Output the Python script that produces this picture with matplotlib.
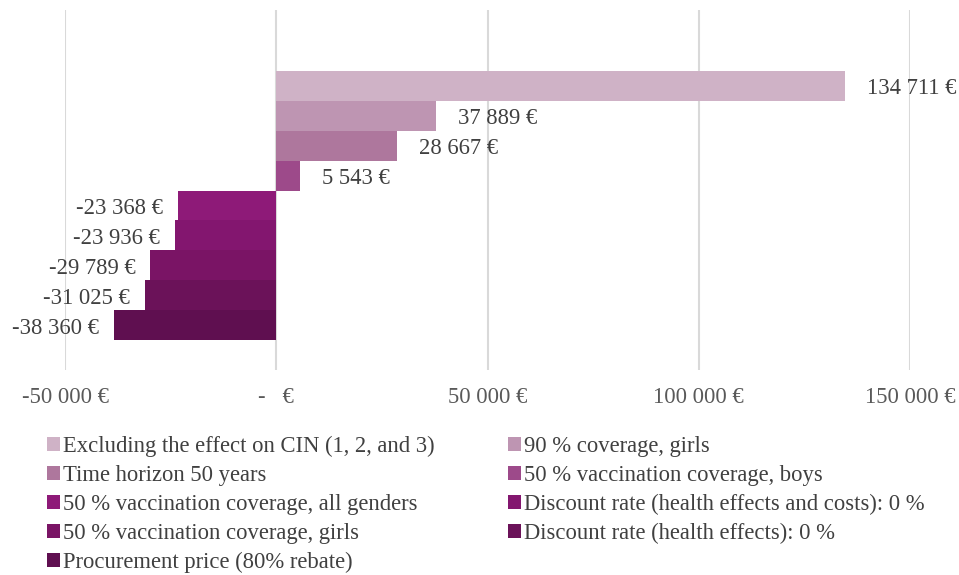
import matplotlib
matplotlib.use("Agg")
import matplotlib.pyplot as plt
from matplotlib.patches import Patch

plt.rcParams['font.family'] = ['Liberation Serif', 'DejaVu Serif']

labels = [
    "Excluding the effect on CIN (1, 2, and 3)",
    "90 % coverage, girls",
    "Time horizon 50 years",
    "50 % vaccination coverage, boys",
    "50 % vaccination coverage, all genders",
    "Discount rate (health effects and costs): 0 %",
    "50 % vaccination coverage, girls",
    "Discount rate (health effects): 0 %",
    "Procurement price (80% rebate)",
]
values = [134711, 37889, 28667, 5543, -23368, -23936, -29789, -31025, -38360]
colors = ["#CFB2C6", "#BE95B2", "#AE779D", "#9D4A8A", "#8E1A78",
          "#83166F", "#7A1465", "#6B1259", "#5F0F50"]
xticks = [-50000, 0, 50000, 100000, 150000]
xticklabels = ["-50 000 €", "-   €", "50 000 €", "100 000 €", "150 000 €"]

FS = 16.3

def fmt(v):
    s = f"{abs(v):,}".replace(",", " ")
    return ("-" if v < 0 else "") + s + " €"

fig = plt.figure(figsize=(9.59, 5.75), dpi=100)
ax = fig.add_axes([65/959, 1-370/575, 845/959, 360/575])

ypos = list(range(len(values)))
ax.barh(ypos, values, height=1.0, color=colors, zorder=3)
ax.set_xlim(-50000, 150000)
ax.set_ylim(9.5, -2.54)
ax.set_yticks([])
ax.set_xticks(xticks)
ax.set_xticklabels(xticklabels, fontsize=FS, color="#595959")
ax.tick_params(axis='x', length=0, pad=12)
ax.grid(axis='x', color="#D9D9D9", linewidth=1.5, zorder=0)
for s in ax.spines.values():
    s.set_visible(False)

for y, v in zip(ypos, values):
    if v >= 0:
        ax.annotate(fmt(v), (v, y), xytext=(22, -3), textcoords='offset pixels',
                    ha='left', va='center', fontsize=FS, color="#404040")
    else:
        ax.annotate(fmt(v), (v, y), xytext=(-15, -3), textcoords='offset pixels',
                    ha='right', va='center', fontsize=FS, color="#404040")

handles = [Patch(facecolor=c, edgecolor='none') for c in colors]
order = [0, 2, 4, 6, 8, 1, 3, 5, 7]
fig.legend([handles[i] for i in order], [labels[i] for i in order],
           ncol=2, loc='upper left', bbox_to_anchor=(47/959, 1-436/575),
           frameon=False, fontsize=FS, handlelength=0.58, handleheight=0.58,
           handletextpad=0.12, columnspacing=3.25, labelspacing=0.35,
           borderaxespad=0, borderpad=0, labelcolor="#404040")

fig.savefig("out.png", dpi=100)
